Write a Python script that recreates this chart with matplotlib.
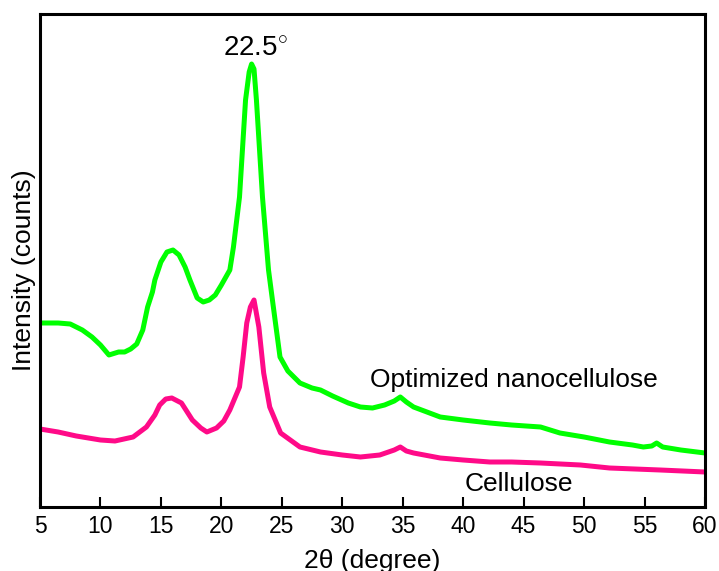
import numpy as np
import matplotlib
matplotlib.use("Agg")
import matplotlib.pyplot as plt

plt.rcParams['font.family'] = ['Liberation Sans', 'DejaVu Sans']
plt.rcParams['mathtext.fontset'] = 'custom'
plt.rcParams['mathtext.rm'] = 'Liberation Sans'

# XRD patterns, intensity in arbitrary units
nano_x = [5.0, 6.5, 7.5, 8.5, 9.3, 10.0, 10.7, 11.5, 12.0, 12.5, 13.0, 13.5, 13.9,
          14.3, 14.5, 15.0, 15.5, 16.0, 16.5, 17.0, 17.4, 18.0, 18.5, 19.0, 19.5,
          20.0, 20.7, 21.0, 21.5, 22.0, 22.3, 22.5, 22.7, 22.9, 23.4, 23.9, 24.3,
          24.85, 25.5, 26.5, 27.5, 28.2, 29.2, 30.5, 31.5, 32.5, 33.5, 34.3, 34.8,
          35.3, 35.9, 37.0, 38.1, 40.0, 42.2, 44.0, 46.4, 48.0, 50.0, 52.1, 54.0,
          54.9, 55.6, 56.0, 56.5, 58.0, 60.0]
nano_y = [184, 184, 183, 177, 170, 162, 152, 155, 155, 158, 163, 177, 200,
          215, 227, 245, 255, 257, 252, 240, 227, 209, 205, 207, 212,
          222, 237, 260, 310, 407, 435, 443, 438, 407, 310, 237, 200,
          150, 136, 124, 119, 117, 111, 104, 100, 99, 102, 106, 110,
          105, 100, 95, 90, 87, 84, 82, 80, 74, 70, 65, 62,
          60, 61, 64, 60, 57, 54]

cell_x = [5.0, 6.5, 8.0, 10.0, 11.2, 12.7, 13.8, 14.5, 14.9, 15.4, 15.9, 16.7,
          17.6, 18.3, 18.8, 19.6, 20.2, 20.7, 21.5, 21.8, 22.1, 22.4, 22.7, 23.1,
          23.5, 24.0, 24.9, 26.5, 28.2, 30.0, 31.5, 33.1, 34.3, 34.8, 35.3, 35.9,
          38.1, 40.0, 42.2, 44.0, 46.4, 49.7, 52.1, 56.3, 60.0]
cell_y = [78, 75, 71, 67, 66, 70, 80, 92, 102, 108, 109, 104,
          87, 79, 75, 79, 86, 97, 120, 150, 184, 200, 207, 180,
          134, 100, 74, 60, 55, 52, 50, 52, 57, 60, 56, 54,
          49, 47, 45, 45, 44, 42, 39, 37, 35]

ticks = [5, 10, 15, 20, 25, 30, 35, 40, 45, 50, 55, 60]

fig = plt.figure(figsize=(7.19, 5.71), dpi=100)
ax = fig.add_axes([40 / 719, 64 / 571, 665 / 719, 493 / 571])

ax.plot(nano_x, nano_y, color='#00ff00', lw=3.6, solid_joinstyle='round')
ax.plot(cell_x, cell_y, color='#ff0a88', lw=3.6, solid_joinstyle='round')

ax.set_xlim(5, 60)
ax.set_ylim(0, 493)
ax.set_xticks(ticks)
ax.set_yticks([])
ax.tick_params(axis='x', direction='in', length=7, width=1.5, labelsize=16.5, pad=6)
for s in ax.spines.values():
    s.set_linewidth(2.2)

ax.set_xlabel('2θ (degree)', fontsize=19, labelpad=8)
ax.set_ylabel('Intensity (counts)', fontsize=19)
ax.yaxis.set_label_coords(-0.006, 0.48)

ax.text(22.86, 451, r'22.5$^{\circ}$', fontsize=20, ha='center', va='baseline')
ax.text(32.3, 127, 'Optimized nanocellulose', fontsize=19, ha='left', va='center')
ax.text(40.1, 23, 'Cellulose', fontsize=19, ha='left', va='center')

fig.savefig('out.png', dpi=100)
